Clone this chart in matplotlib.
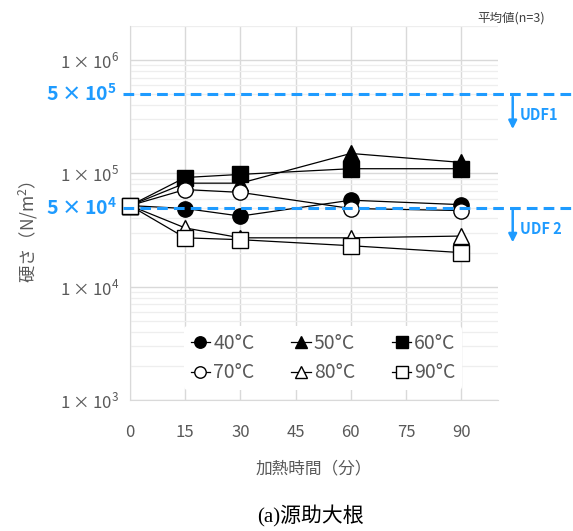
import matplotlib
matplotlib.use("Agg")
import matplotlib.pyplot as plt
from matplotlib.ticker import FixedLocator, NullFormatter
import numpy as np

plt.rcParams['font.family'] = ['Noto Sans CJK JP', 'DejaVu Sans']
plt.rcParams['mathtext.fontset'] = 'custom'
plt.rcParams['mathtext.rm'] = 'Noto Sans CJK JP'
plt.rcParams['mathtext.bf'] = 'Noto Sans CJK JP:bold'

# heating time (min)
times = [0, 15, 30, 60, 90]
# hardness (N/m2), mean of n=3
h40 = [5.2e4, 4.9e4, 4.2e4, 5.8e4, 5.3e4]
h50 = [5.2e4, 8.2e4, 8.2e4, 1.5e5, 1.25e5]
h60 = [5.2e4, 9.2e4, 9.8e4, 1.1e5, 1.1e5]
h70 = [5.2e4, 7.2e4, 6.8e4, 4.9e4, 4.7e4]
h80 = [5.2e4, 3.3e4, 2.7e4, 2.7e4, 2.8e4]
h90 = [5.2e4, 2.7e4, 2.6e4, 2.3e4, 2.0e4]
labels = ['40°C', '50°C', '60°C', '70°C', '80°C', '90°C']
udf1 = 5e5
udf2 = 5e4

gray = '#595959'
blue = '#1E9BFF'

fig = plt.figure(figsize=(5.73, 5.31), dpi=100)
ax = fig.add_axes([130 / 573, 1 - 400 / 531, 368 / 573, 374 / 531])

series = [(h40, 'o', 'black'), (h50, '^', 'black'), (h60, 's', 'black'),
          (h70, 'o', 'white'), (h80, '^', 'white'), (h90, 's', 'white')]
handles = []
for (vals, mk, fc), lab in zip(series, labels):
    ln, = ax.plot(times, vals, color='black', lw=0.9, marker=mk, markersize=11,
                  markerfacecolor=fc, markeredgecolor='black', markeredgewidth=1.0,
                  label=lab, zorder=4, clip_on=False)
    handles.append(ln)

ax.set_yscale('log')
ax.set_ylim(1e3, 2e6)
ax.set_xlim(0, 100)
ax.set_xticks([0, 15, 30, 45, 60, 75, 90])
ax.set_yticks([1e3, 1e4, 1e5, 1e6])
ax.set_yticklabels([r'$1\times10^{3}$', r'$1\times10^{4}$', r'$1\times10^{5}$', r'$1\times10^{6}$'])
minors = [m * 10 ** e for e in range(3, 7) for m in range(2, 10) if m * 10 ** e <= 2e6]
ax.yaxis.set_minor_locator(FixedLocator(minors))
ax.yaxis.set_minor_formatter(NullFormatter())
ax.tick_params(axis='both', which='both', length=0, labelcolor=gray, labelsize=12, pad=8)
ax.tick_params(axis='x', pad=17)

ax.grid(True, which='major', color='#d9d9d9', lw=1.0, zorder=0)
ax.grid(True, which='minor', axis='y', color='#eeeeee', lw=0.9, zorder=0)
for s in ['top', 'right']:
    ax.spines[s].set_visible(False)
for s in ['left', 'bottom']:
    ax.spines[s].set_color('#d9d9d9')
ax.set_axisbelow(True)

ax.set_xlabel('加熱時間（分）', color=gray, fontsize=12, labelpad=14)
ax.set_ylabel('硬さ（N/m$^{2}$）', color=gray, fontsize=12.5, labelpad=4)
ax.yaxis.set_label_coords(-0.245, 0.45)

# UDF boundary lines
ytr = ax.get_yaxis_transform()
for v, name, ty in [(udf1, 'UDF1', 3.3e5), (udf2, 'UDF 2', 3.2e4)]:
    ax.plot([-0.02, 1.3], [v, v], transform=ytr, color=blue, lw=2.2, ls=(0, (3.5, 2)),
            clip_on=False, zorder=5)
    ax.annotate('', xy=(1.04, v / 2.15), xytext=(1.04, v), xycoords=ytr, textcoords=ytr,
                arrowprops=dict(arrowstyle='-|>', color=blue, lw=1.8, mutation_scale=12),
                annotation_clip=False)
    ax.text(1.06, ty, name, transform=ytr, color=blue, fontsize=10.5, fontweight='bold',
            va='center', ha='left', clip_on=False)
    ax.text(-0.035, v, r'$\mathbf{5\times10^{%d}}$' % int(np.log10(v / 5)), transform=ytr,
            color=blue, fontsize=14, fontweight='bold', va='center', ha='right')

# row-major legend order: 40,50,60 / 70,80,90
order = [0, 3, 1, 4, 2, 5]
leg = ax.legend(handles=[handles[i] for i in order], ncol=3, loc='lower center',
                bbox_to_anchor=(0.525, 0.0), frameon=True, fontsize=14, markerscale=0.75,
                handlelength=1.0, handletextpad=0.15, columnspacing=1.9, labelspacing=0.45,
                borderpad=0.35)
leg.get_frame().set_facecolor('white')
leg.get_frame().set_edgecolor('none')
leg.get_frame().set_alpha(1)
for t in leg.get_texts():
    t.set_color(gray)

fig.text(545 / 573, 1 - 18 / 531, '平均値(n=3)', ha='right', va='center', fontsize=9, color='#404040')
fig.text(310 / 573, 1 - 516 / 531, '(a)源助大根', ha='center', va='center', fontsize=15,
         family=['Liberation Serif', 'Noto Sans CJK JP'], color='black')

fig.savefig('out.png', dpi=100)
